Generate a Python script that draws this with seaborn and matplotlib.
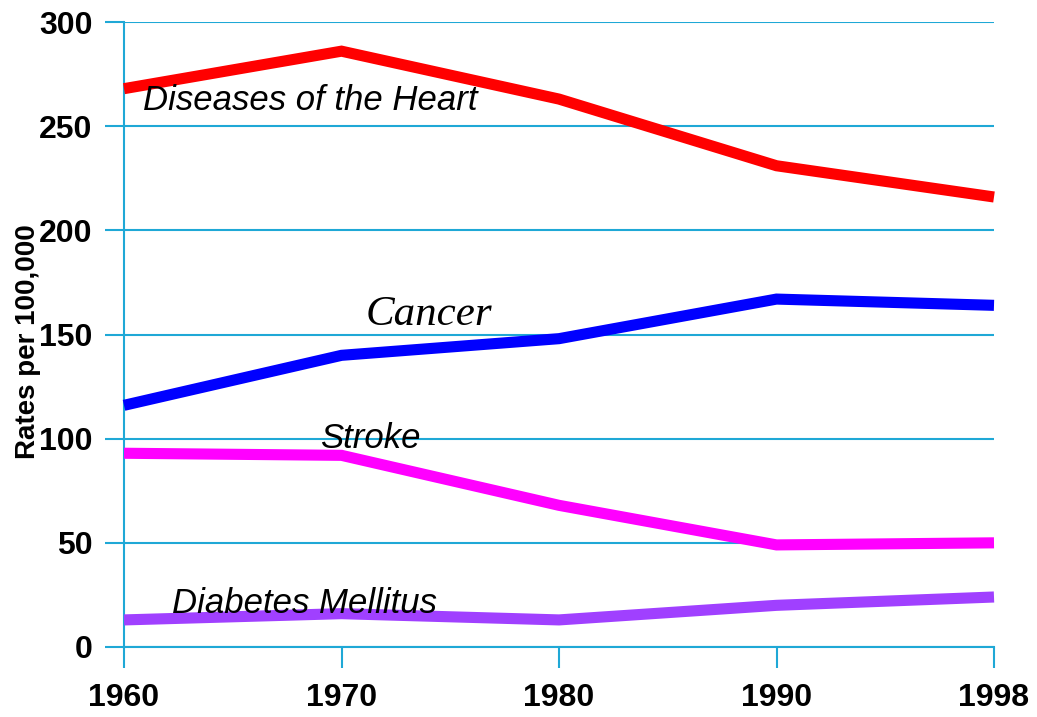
import pandas as pd
import numpy as np
import matplotlib
matplotlib.use("Agg")
import matplotlib.pyplot as plt
import seaborn as sns

# === data ===
years = ["1960", "1970", "1980", "1990", "1998"]
heart = [268, 286, 263, 231, 216]
cancer = [116, 140, 148, 167, 164]
stroke = [93, 92, 68, 49, 50]
diabetes = [13, 16, 13, 20, 24]

series = {
    "Diseases of the Heart": heart,
    "Cancer": cancer,
    "Stroke": stroke,
    "Diabetes Mellitus": diabetes,
}
colors = {
    "Diseases of the Heart": "#FF0000",
    "Cancer": "#0000FF",
    "Stroke": "#FF00FF",
    "Diabetes Mellitus": "#A040FF",
}

rows = []
for name, vals in series.items():
    for i, v in enumerate(vals):
        rows.append({"pos": i, "year": years[i], "cause": name, "rate": v})
df = pd.DataFrame(rows)

sns.set_theme(style="white")
plt.rcParams["font.family"] = ["Liberation Sans", "DejaVu Sans"]
plt.rcParams["text.color"] = "black"
plt.rcParams["axes.labelcolor"] = "black"
plt.rcParams["xtick.labelcolor"] = "black"
plt.rcParams["ytick.labelcolor"] = "black"

grid_col = "#1FA8D6"

fig = plt.figure(figsize=(10.37, 7.17), dpi=100)
ax = fig.add_axes([124 / 1037, 70 / 717, 870 / 1037, 625 / 717])

sns.lineplot(data=df, x="pos", y="rate", hue="cause", palette=colors,
             linewidth=8, legend=False, ax=ax, zorder=3)
for ln in ax.lines:
    ln.set_solid_capstyle("butt")
    ln.set_solid_joinstyle("miter")
    ln.set_clip_on(False)

ax.set_xlim(0, len(years) - 1)
ax.set_ylim(0, 300)
ax.set_xticks(range(len(years)))
ax.set_xticklabels(years)
ax.set_yticks(np.arange(0, 301, 50))

ax.grid(axis="y", color=grid_col, linewidth=1.5)
ax.grid(axis="x", visible=False)
ax.set_axisbelow(True)

for s in ["top", "right"]:
    ax.spines[s].set_visible(False)
for s in ["left", "bottom"]:
    ax.spines[s].set_color(grid_col)
    ax.spines[s].set_linewidth(1.5)

ax.tick_params(axis="y", direction="out", length=13.7, width=1.5, color=grid_col,
               left=True, pad=9, labelsize=23)
ax.tick_params(axis="x", direction="out", length=15, width=1.5, color=grid_col,
               bottom=True, pad=11, labelsize=23)
for lab in ax.get_xticklabels() + ax.get_yticklabels():
    lab.set_fontweight("bold")

ax.set_xlabel("")
ax.set_ylabel("Rates per 100,000", fontsize=20, fontweight="bold")
ax.yaxis.set_label_coords(-0.095, 0.488)

# series labels
ax.text(0.087, 258, "Diseases of the Heart", fontsize=25, style="italic", va="baseline")
ax.text(1.11, 154.6, "Cancer", fontsize=31, style="italic", va="baseline",
        family=["Liberation Serif", "DejaVu Serif"])
ax.text(0.90, 95.5, "Stroke", fontsize=25, style="italic", va="baseline")
ax.text(0.22, 16.3, "Diabetes Mellitus", fontsize=25, style="italic", va="baseline")

fig.savefig("out.png", dpi=100, facecolor="white")
